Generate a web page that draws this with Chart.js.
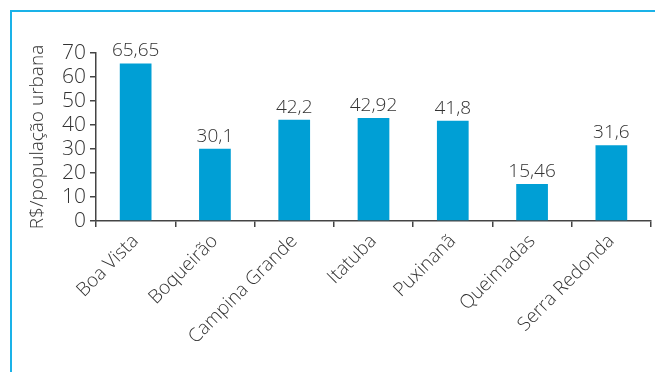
<!DOCTYPE html>
<html>
<head>
<meta charset="utf-8">
<script src="https://cdn.jsdelivr.net/npm/chart.js@4"></script>
<style>
  html, body { margin: 0; padding: 0; background: #fff; }
  #wrap { position: relative; width: 655px; height: 372px; }
  #frame { position: absolute; left: 10px; top: 10px; right: 0; bottom: 0;
           border-top: 2px solid #1ab2e8; border-left: 2px solid #1ab2e8; }
  canvas { position: absolute; left: 0; top: 0; }
</style>
</head>
<body>
<div id="wrap">
  <div id="frame"></div>
  <canvas id="grafico" width="655" height="372"></canvas>
</div>
<script>
// Dados do gráfico
const municipios = ['Boa Vista', 'Boqueirão', 'Campina Grande', 'Itatuba', 'Puxinanã', 'Queimadas', 'Serra Redonda'];
const valores = [65.65, 30.1, 42.2, 42.92, 41.8, 15.46, 31.6];
const rotulos = ['65,65', '30,1', '42,2', '42,92', '41,8', '15,46', '31,6'];
const tituloY = 'R$/população urbana';

const fonte = "'Open Sans', 'DejaVu Sans', sans-serif";
const corTexto = '#333';
const corEixo = '#444';

// escreve os valores em cima de cada barra
const rotulosBarras = {
  id: 'rotulosBarras',
  afterDatasetsDraw(chart) {
    const ctx = chart.ctx;
    const meta = chart.getDatasetMeta(0);
    ctx.save();
    ctx.font = '300 19px ' + fonte;
    ctx.fillStyle = corTexto;
    ctx.textAlign = 'center';
    ctx.textBaseline = 'bottom';
    meta.data.forEach((bar, i) => {
      ctx.fillText(rotulos[i], bar.x, bar.y - 3);
    });
    ctx.restore();
  }
};

new Chart(document.getElementById('grafico'), {
  type: 'bar',
  data: {
    labels: municipios,
    datasets: [{
      data: valores,
      backgroundColor: '#009fd5',
      categoryPercentage: 0.8,
      barPercentage: 0.5
    }]
  },
  options: {
    responsive: false,
    animation: false,
    layout: { padding: { top: 53, right: 4, left: 0, bottom: 0 } },
    plugins: { legend: { display: false }, tooltip: { enabled: false } },
    scales: {
      x: {
        afterFit(scale) { scale.height = 151; },
        grid: { offset: true, drawOnChartArea: false, drawTicks: true, tickLength: 6, color: corEixo, lineWidth: 1.5 },
        border: { display: true, color: corEixo, width: 1.5 },
        ticks: {
          maxRotation: 45, minRotation: 45, padding: 3, autoSkip: false,
          color: corTexto,
          font: { family: fonte, size: 19, weight: '300' }
        }
      },
      y: {
        min: 0, max: 70,
        afterFit(scale) { scale.width = 96; },
        grid: { drawOnChartArea: false, drawTicks: true, tickLength: 6, color: corEixo, lineWidth: 1.5 },
        border: { display: true, color: corEixo, width: 1.5 },
        ticks: {
          stepSize: 10, padding: 4, autoSkip: false,
          color: corTexto,
          font: { family: fonte, size: 21, weight: '300' }
        },
        title: {
          display: true,
          text: tituloY,
          color: corTexto,
          padding: { top: 26, bottom: 0 },
          font: { family: fonte, size: 19, weight: '300' }
        }
      }
    }
  },
  plugins: [rotulosBarras]
});
</script>
</body>
</html>
